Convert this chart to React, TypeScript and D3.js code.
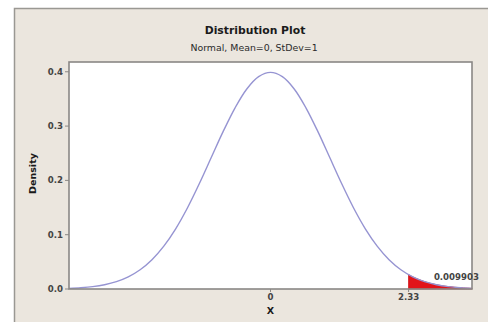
import React from "react";
import * as d3 from "d3";

// Normal(0,1) density
const xValues = [-3.4, -3.2, -3.0, -2.8, -2.6, -2.4, -2.2, -2.0, -1.8, -1.6, -1.4, -1.2, -1.0, -0.8, -0.6, -0.4, -0.2, 0, 0.2, 0.4, 0.6, 0.8, 1.0, 1.2, 1.4, 1.6, 1.8, 2.0, 2.2, 2.4, 2.6, 2.8, 3.0, 3.2, 3.4];
const densityValues = [0.0012, 0.0024, 0.0044, 0.0079, 0.0136, 0.0224, 0.0355, 0.054, 0.079, 0.1109, 0.1497, 0.1942, 0.242, 0.2897, 0.3332, 0.3683, 0.391, 0.3989, 0.391, 0.3683, 0.3332, 0.2897, 0.242, 0.1942, 0.1497, 0.1109, 0.079, 0.054, 0.0355, 0.0224, 0.0136, 0.0079, 0.0044, 0.0024, 0.0012];
// shaded upper tail
const tailX = [2.33, 2.4, 2.6, 2.8, 3.0, 3.2, 3.4];
const tailDensity = [0.0264, 0.0224, 0.0136, 0.0079, 0.0044, 0.0024, 0.0012];
const tailProbability = "0.009903";
const yTicks = [0, 0.1, 0.2, 0.3, 0.4];
const xTicks = [0, 2.33];
const xTickLabels = ["0", "2.33"];
const title = "Distribution Plot";
const subtitle = "Normal, Mean=0, StDev=1";

const W = 488;
const H = 322;
const left = 69, right = 472, top = 62, bottom = 289;
const font = "'DejaVu Sans', Verdana, sans-serif";

export default function App() {
  const x = d3.scaleLinear().domain([-3.4, 3.4]).range([left, right]);
  const y = d3.scaleLinear().domain([0, 0.418]).range([bottom, top]);
  const pts = xValues.map((v, i) => [v, densityValues[i]] as [number, number]);
  const tail = tailX.map((v, i) => [v, tailDensity[i]] as [number, number]);
  const line = d3.line<[number, number]>().x(d => x(d[0])).y(d => y(d[1])).curve(d3.curveCatmullRom);
  const area = d3.area<[number, number]>().x(d => x(d[0])).y0(y(0)).y1(d => y(d[1])).curve(d3.curveCatmullRom);

  return (
    <svg width={W} height={H} style={{ position: "absolute", left: 0, top: 0 }} fontFamily={font}>
      <rect x={0} y={0} width={W} height={H} fill="#ffffff" />
      <rect x={14} y={8} width={W - 14} height={H - 8} fill="#ebe6de" />
      <path d={`M14.5,${H} L14.5,8.5 L${W},8.5`} fill="none" stroke="#9a9893" strokeWidth={1.5} />
      <text x={255} y={34} textAnchor="middle" fontSize={10.8} fontWeight="bold" fill="#1a1a1a">{title}</text>
      <text x={254} y={50.5} textAnchor="middle" fontSize={9.4} fill="#2a2a2a">{subtitle}</text>
      <rect x={left} y={top} width={right - left} height={bottom - top} fill="#ffffff" />
      <path d={area(tail) || ""} fill="#e2141a" stroke="#d01015" strokeWidth={0.8} />
      <path d={line(pts) || ""} fill="none" stroke="#9694d2" strokeWidth={1.4} />
      <rect x={left} y={top} width={right - left} height={bottom - top} fill="none" stroke="#8a8885" strokeWidth={1.6} />
      {yTicks.map(t => (
        <g key={t}>
          <line x1={left - 4} x2={left} y1={y(t)} y2={y(t)} stroke="#8a8885" strokeWidth={1} />
          <text x={left - 6} y={y(t) + 3} textAnchor="end" fontSize={8.6} fontWeight="bold" fill="#444444">{t.toFixed(1)}</text>
        </g>
      ))}
      {xTicks.map((t, i) => (
        <g key={t}>
          <line x1={x(t)} x2={x(t)} y1={bottom} y2={bottom + 3} stroke="#8a8885" strokeWidth={1} />
          <text x={x(t)} y={bottom + 11} textAnchor="middle" fontSize={8.6} fontWeight="bold" fill="#444444">{xTickLabels[i]}</text>
        </g>
      ))}
      <text x={x(3.4) + 7} y={y(0.016)} textAnchor="end" fontSize={8.6} fontWeight="bold" fill="#444444">{tailProbability}</text>
      <text x={x(0)} y={314} textAnchor="middle" fontSize={9.5} fontWeight="bold" fill="#1a1a1a">X</text>
      <text transform={`translate(36,${(top + bottom) / 2 - 2}) rotate(-90)`} textAnchor="middle" fontSize={9.5} fontWeight="bold" fill="#1a1a1a">Density</text>
    </svg>
  );
}
